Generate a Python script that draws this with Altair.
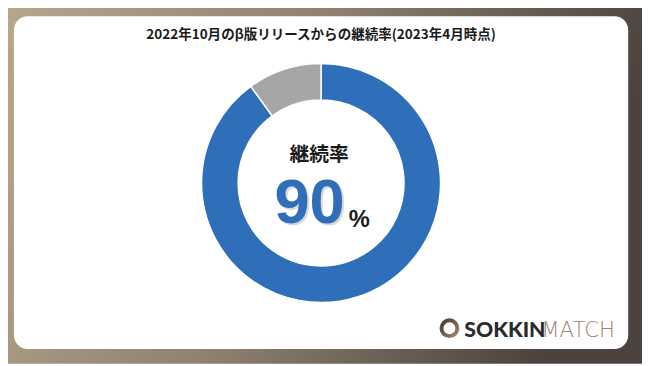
import altair as alt
import pandas as pd

# ---- data ----
categories = ["継続", "離脱"]
values = [90, 10]
order = [1, 2]
colors = ["#2F6EB9", "#A6A6A6"]

title_text = ["2022年10月のβ版リリースからの継続率(2023年4月時点)"]
center_label = ["継続率"]
center_value = ["90"]
center_unit = ["%"]
brand_bold = ["SOKKIN"]
brand_light = ["MATCH"]

W, H = 642, 358

df = pd.DataFrame({"category": categories, "value": values, "order": order})
one = pd.DataFrame({"d": [0]})

bg = alt.Chart(one).mark_rect(
    fill=alt.Gradient(
        gradient="linear", x1=0, y1=0, x2=1, y2=0.2,
        stops=[alt.GradientStop(color="#B8A78E", offset=0),
               alt.GradientStop(color="#8E8170", offset=0.5),
               alt.GradientStop(color="#4C433E", offset=1)],
    )
).encode(x=alt.value(-8), x2=alt.value(W), y=alt.value(-8), y2=alt.value(H))

card = alt.Chart(one).mark_rect(fill="white", cornerRadius=14).encode(
    x=alt.value(6), x2=alt.value(628), y=alt.value(6), y2=alt.value(343)
)

donut = alt.Chart(df).mark_arc(
    outerRadius=121, innerRadius=84, stroke="white", strokeWidth=1.5, x=317, y=175
).encode(
    theta=alt.Theta("value:Q", stack=True),
    color=alt.Color("category:N", scale=alt.Scale(domain=categories, range=colors), legend=None),
    order=alt.Order("order:Q"),
)

def txt(data, **kw):
    return alt.Chart(pd.DataFrame({"t": data})).mark_text(**kw).encode(text="t:N")

title = txt(title_text, x=317, y=25, fontSize=13.7, fontWeight="bold",
            font="Noto Sans CJK JP", color="#1A1A1A", align="center", baseline="middle")
label = txt(center_label, x=315, y=147, fontSize=20, fontWeight="bold",
            font="Noto Sans CJK JP", color="#1A1A1A", align="center", baseline="middle")
shadow = txt(center_value, x=343, y=217, fontSize=64, fontWeight="bold",
             font="Liberation Sans", color="#000000", opacity=0.15,
             align="right", baseline="alphabetic")
value = txt(center_value, x=341, y=215, fontSize=64, fontWeight="bold",
            font="Liberation Sans", color="#2F6EB9", align="right", baseline="alphabetic")
unit = txt(center_unit, x=345, y=219, fontSize=24, fontWeight="bold",
           font="Liberation Sans", color="#1A1A1A", align="left", baseline="alphabetic")

ring = alt.Chart(one).mark_arc(
    outerRadius=10, innerRadius=6, x=447, y=322, theta=0, theta2=6.2832,
    fill=alt.Gradient(
        gradient="linear", x1=0, y1=0, x2=1, y2=1,
        stops=[alt.GradientStop(color="#3E342D", offset=0),
               alt.GradientStop(color="#A88C74", offset=1)],
    ),
).encode(opacity=alt.value(1))

b1 = txt(brand_bold, x=462, y=331, fontSize=21.5, fontWeight=900, font="Lato",
         color="#2B2B2B", align="left", baseline="alphabetic")
b2 = txt(brand_light, x=540, y=331, fontSize=21.5, fontWeight=300, font="DejaVu Sans",
         color="#A08472", align="left", baseline="alphabetic")

chart = alt.layer(bg, card, donut, title, label, shadow, value, unit, ring, b1, b2).properties(
    width=W, height=H, padding=0, autosize="none"
).configure_view(stroke=None)

chart.save("out.html", embed_options={"renderer": "svg", "actions": False})
